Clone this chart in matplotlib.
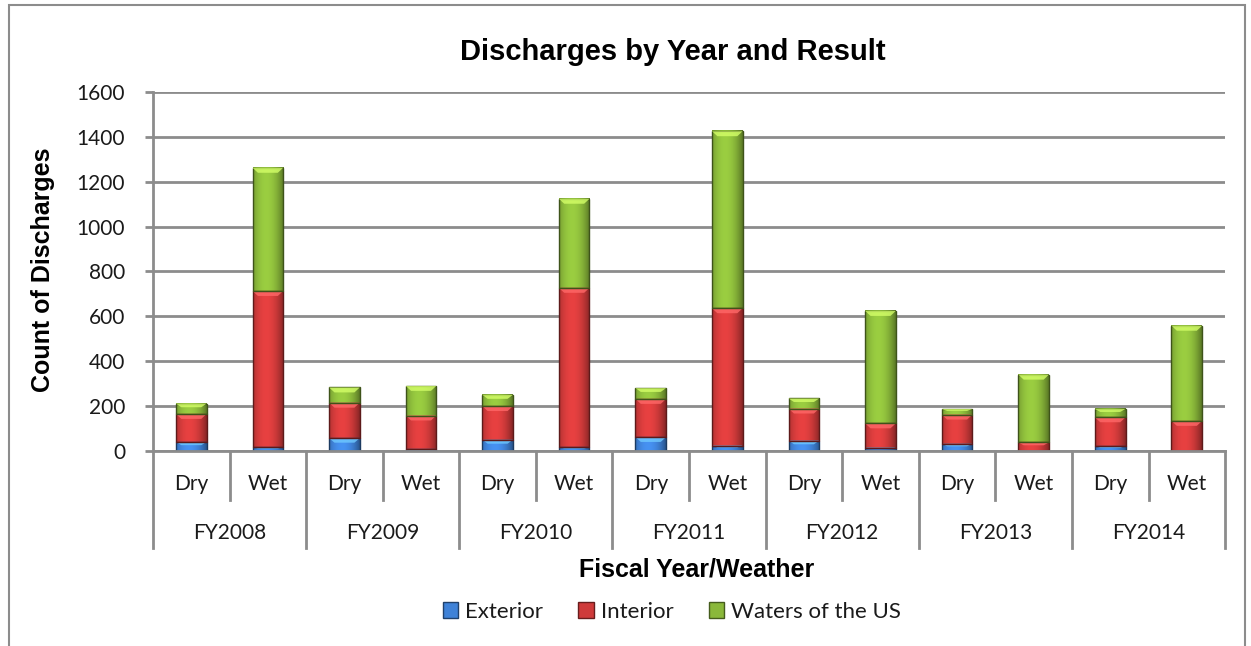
import numpy as np
import matplotlib
matplotlib.use("Agg")
import matplotlib.pyplot as plt
from matplotlib.colors import to_rgb
from matplotlib.patches import Patch, Rectangle, Polygon

# discharge counts per fiscal year and weather condition
years = ["FY2008", "FY2009", "FY2010", "FY2011", "FY2012", "FY2013", "FY2014"]
weather = ["Dry", "Wet"] * len(years)
exterior = [40, 17, 57, 9, 50, 17, 62, 24, 46, 15, 32, 2, 22, 2]
interior = [125, 696, 158, 149, 150, 710, 170, 612, 143, 108, 130, 36, 128, 132]
waters = [46, 549, 68, 132, 50, 397, 48, 789, 45, 501, 25, 302, 37, 424]

series = [("Exterior", exterior, "#3f82d8"),
          ("Interior", interior, "#cf3a3a"),
          ("Waters of the US", waters, "#8ab83a")]

txt_font = ["Lato", "DejaVu Sans"]
head_font = ["Liberation Sans", "DejaVu Sans"]
grid_col = "#8c8c8c"
lab_size = 15


def shaded_bar(ax, x0, x1, y0, y1, color):
    """Bar segment with a horizontal cylinder-like shade and a light top bevel."""
    rgb = np.array(to_rgb(color))
    t = np.linspace(-1, 1, 40)
    light = 1.12 - 0.35 * (t + 0.15) ** 2
    arr = np.clip(rgb[None, :] * light[:, None], 0, 1)
    ax.imshow(arr[None, :, :], extent=(x0, x1, y0, y1), aspect="auto",
              interpolation="bicubic", zorder=3)
    ax.add_patch(Rectangle((x0, y0), x1 - x0, y1 - y0, fill=False,
                           edgecolor=rgb * 0.45, lw=1.0, zorder=4))
    h = min(0.35 * (y1 - y0), 22)
    if h > 1:
        inset = 0.07
        bevel = Polygon([(x0, y1), (x1, y1), (x1 - inset, y1 - h), (x0 + inset, y1 - h)],
                        closed=True, facecolor=np.clip(rgb * 1.35 + 0.1, 0, 1),
                        edgecolor="none", alpha=0.8, zorder=4)
        ax.add_patch(bevel)


fig = plt.figure(figsize=(12.51, 6.46), dpi=100)
ax = fig.add_axes([0.1223, 0.3019, 0.857, 0.5557])

x = np.arange(len(weather))
width = 0.4
bottom = np.zeros(len(weather))
for name, vals, col in series:
    for i, v in enumerate(vals):
        if v > 0:
            shaded_bar(ax, x[i] - width / 2, x[i] + width / 2, bottom[i], bottom[i] + v, col)
    bottom += np.array(vals)

ax.set_xlim(-0.5, len(weather) - 0.5)
ax.set_ylim(0, 1600)
ax.set_yticks(np.arange(0, 1601, 200))
ax.yaxis.grid(True, color=grid_col, lw=2)
ax.set_axisbelow(True)
for s in ["top", "right", "bottom"]:
    ax.spines[s].set_visible(False)
ax.spines["left"].set_color(grid_col)
ax.spines["left"].set_linewidth(2)
ax.tick_params(axis="y", length=6, width=2, color=grid_col, pad=14,
               labelsize=lab_size, labelcolor="#1a1a1a")
for lab in ax.get_yticklabels():
    lab.set_fontfamily(txt_font)

# two-level category axis: Dry/Wet under each bar, fiscal year underneath
ax.set_xticks([])
xt = ax.get_xaxis_transform()
ax.plot([-0.5, len(weather) - 0.5], [0, 0], color=grid_col, lw=2,
        transform=xt, clip_on=False, zorder=5)
for i, w in enumerate(weather):
    ax.text(x[i], -0.092, w, transform=xt, ha="center", va="center",
            fontsize=lab_size, family=txt_font, color="#1a1a1a")
for k, yr in enumerate(years):
    ax.text(2 * k + 0.5, -0.228, yr, transform=xt, ha="center", va="center",
            fontsize=lab_size, family=txt_font, color="#1a1a1a")
for b in np.arange(-0.5, len(weather), 1.0):
    low = -0.27 if (b + 0.5) % 2 == 0 else -0.136
    ax.plot([b, b], [0, low], color=grid_col, lw=2, transform=xt, clip_on=False)

ax.text(0.507, -0.331, "Fiscal Year/Weather", transform=ax.transAxes, ha="center",
        va="center", fontsize=18, fontweight="bold", family=head_font)
fig.text(0.034, 0.582, "Count of Discharges", rotation=90, ha="center", va="center",
         fontsize=18, fontweight="bold", family=head_font)
fig.text(0.538, 0.9195, "Discharges by Year and Result", ha="center", va="center",
         fontsize=21, fontweight="bold", family=head_font)

handles = [Patch(facecolor=c, edgecolor=np.array(to_rgb(c)) * 0.5, label=n)
           for n, _, c in series]
leg = fig.legend(handles=handles, loc="center", bbox_to_anchor=(0.537, 0.053), ncol=3,
                 frameon=False, prop={"family": txt_font, "size": 16},
                 handlelength=0.7, handleheight=0.7, handletextpad=0.3, columnspacing=1.6)
for t in leg.get_texts():
    t.set_color("#1a1a1a")

# outer chart border
fig.patches.append(Rectangle((0.0072, -0.02), 0.988, 1.012, transform=fig.transFigure,
                             fill=False, edgecolor="#8c8c8c", lw=1.5))

fig.savefig("out.png", dpi=100)
